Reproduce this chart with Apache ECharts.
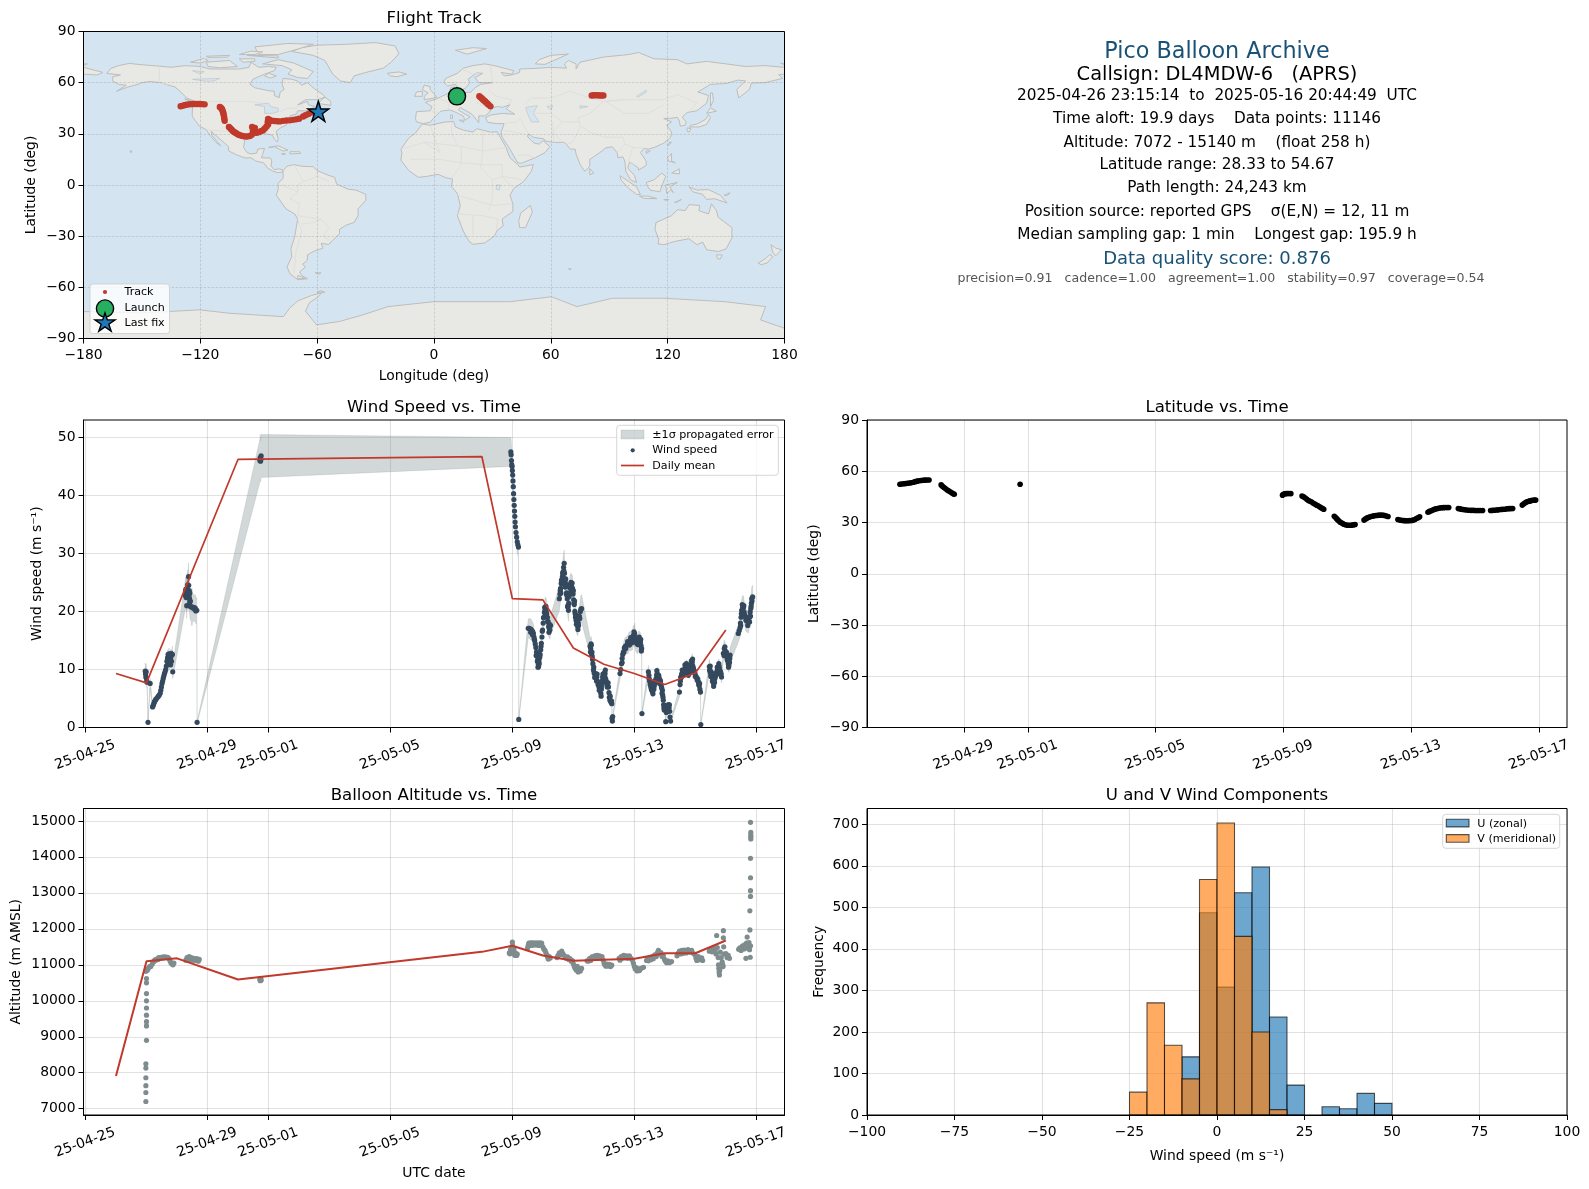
<!DOCTYPE html>
<html><head><meta charset="utf-8">
<style>html,body{margin:0;padding:0;background:#fff}#c{width:1589px;height:1189px}</style>
<script src="https://cdn.jsdelivr.net/npm/echarts@6/dist/echarts.min.js"></script>
</head><body><div id="c"></div>
<script>
// ---------- DATA ----------
const tickDates = ['25-04-25','25-04-29','25-05-01','25-05-05','25-05-09','25-05-13','25-05-17'];
const tickDays = [0,4,6,10,14,18,22]; // days since 2025-04-25 00:00 UTC
const infoLines = [
 ['Pico Balloon Archive',52.7,'#1a5276',22.3,1217],
 ['Callsign: DL4MDW-6   (APRS)',74.7,'#000',19.4,1217],
 ['2025-04-26 23:15:14  to  2025-05-16 20:44:49  UTC',96.2,'#000',15.3,1217],
 ['Time aloft: 19.9 days    Data points: 11146',119.2,'#000',15.3,1217],
 ['Altitude: 7072 - 15140 m    (float 258 h)',142.7,'#000',15.3,1217],
 ['Latitude range: 28.33 to 54.67',165.2,'#000',15.3,1217],
 ['Path length: 24,243 km',188.2,'#000',15.3,1217],
 ['Position source: reported GPS    σ(E,N) = 12, 11 m',211.7,'#000',15.3,1217],
 ['Median sampling gap: 1 min    Longest gap: 195.9 h',234.7,'#000',15.3,1217],
 ['Data quality score: 0.876',259.2,'#1a5276',18,1217],
 ['precision=0.91   cadence=1.00   agreement=1.00   stability=0.97   coverage=0.54',279.2,'#555',12.57,1221]
];
const landNorthAmerica = [[-168,65.5],[-166,68.3],[-162,70],[-156.5,71.3],[-150,70.5],[-141,69.7],[-135,69],[-128,70],[-120,69.5],[-115,68],[-108,68],[-100,68],[-95,69],[-94,72],[-90,69],[-85,69.5],[-81,69],[-82,67],[-87,65],[-93,62],[-94.5,59],[-92,57],[-85,55.3],[-82,55],[-82,52.5],[-79.5,51.2],[-79,54.5],[-77,56],[-78,59],[-77.5,62.5],[-73,62],[-70,61],[-68,58.5],[-65,60],[-61.5,56.5],[-57,53],[-56,51.5],[-60,50],[-66,50],[-70,47],[-65,49],[-64.5,47],[-61,46],[-65.5,43.5],[-70,43.5],[-70.5,41.7],[-74,40.5],[-75.5,37.5],[-76,35],[-78.5,33.8],[-81,31.5],[-80,27],[-80.5,25.2],[-82,27],[-83,29.2],[-85,29.7],[-89,30.3],[-90,29.2],[-94,29.6],[-97,28],[-97.5,24],[-97.8,22],[-96,19],[-94,18.2],[-91,18.7],[-90.5,21],[-87,21.5],[-88,18],[-88.7,16],[-84,15.8],[-83.3,14],[-83.7,11],[-82,9],[-79.5,9.5],[-77.5,8.7],[-78,7.5],[-80.5,7.3],[-83,8.3],[-85.5,10],[-87.5,13],[-91.5,14],[-94,16],[-97,15.8],[-102,18],[-105.5,20],[-105.5,22.5],[-109,26],[-112.5,29.5],[-114.5,31.5],[-114,29],[-111,25],[-109.5,23],[-112,25],[-115,29],[-117,32.5],[-120.5,34.5],[-122.5,37.5],[-124.2,40.5],[-124,46],[-124.7,48.4],[-122.5,49],[-127,51],[-130,54.5],[-133,57.5],[-137,58.7],[-140,60],[-146,60.7],[-150,60],[-152,59],[-157,57.5],[-163,55],[-158,58.5],[-162,59],[-165,61],[-165,63.5],[-161,64.5]];
const landGreenland = [[-73,78.3],[-68,80.5],[-60,82],[-45,82.5],[-30,83.5],[-20,81.5],[-18,77],[-22,72],[-26,68.5],[-35,66],[-41,64],[-43,60],[-48,61],[-52,65],[-54,69],[-56,73],[-62,76]];
const landSouthAmerica = [[-77.5,8.5],[-75.5,11],[-72,12],[-68,11],[-62,10.7],[-60,8.5],[-55,6],[-51,4.5],[-50,0.5],[-44,-2.5],[-40,-3],[-35,-5.5],[-35,-9],[-39,-14],[-39,-18],[-41,-22],[-45,-23.5],[-48.5,-26],[-48.5,-28.5],[-52,-32.5],[-54,-34.8],[-58,-34.3],[-57,-37],[-62,-39],[-65,-41],[-65,-44],[-67.5,-46.5],[-66,-48],[-69,-51],[-68,-53],[-65,-55],[-70,-55.5],[-74,-52],[-75.5,-48],[-73,-42],[-73.5,-37.5],[-71.5,-30],[-70,-20],[-71.5,-17],[-76,-14],[-81,-6],[-80,-2.5],[-80,1],[-77.5,4],[-77.5,7.5]];
const landAfrica = [[-6,35.8],[-2,35],[5,36.8],[10,37.3],[11,34],[15,32.2],[20,31],[22,33],[29,31],[32.5,31.2],[34,28],[37,22],[39,16],[43,12],[44,10.5],[51,12],[50,8],[46,2],[41,-2],[39,-6],[40.5,-11],[40.5,-15.5],[35,-20],[35.5,-24],[32.5,-26.5],[31,-30],[26,-34],[20,-34.8],[18,-33],[15,-27],[12,-18],[13.5,-12],[12,-5],[9,-1],[9.5,3.5],[6,4.3],[2,6.3],[-4,5],[-8,4.5],[-13,8.5],[-17,14.5],[-16.5,19],[-17,21],[-13,27.5],[-9.5,30.5]];
const landEurasia = [[-9,37],[-9.5,39],[-9,43],[-2,43.5],[-1,46],[-4.5,48.5],[1.5,50.5],[4,52],[8,54],[8.5,57],[10.5,57.5],[10,54.5],[14,54],[19,54.5],[21,57],[24,59],[30,60],[23,60],[21,63],[25,65.5],[22,65.8],[17.5,62],[18.5,60],[16,56.5],[13,55.5],[11,59],[7,58],[5,60],[6,62.5],[12,65.5],[15,68.5],[20,70],[26,71],[31,70],[41,67],[40,65],[34.5,66],[36,64],[40,64.5],[44,66],[44,68],[54,68.5],[60,69],[68,68.5],[67,71],[69,73],[73,71],[73,68],[75,72],[81,73.5],[87,75],[100,76.5],[105,77.7],[113,74],[125,73.5],[130,71],[140,72.5],[150,71],[160,69.5],[170,70],[180,69],[180,65],[177,64.7],[179,62.5],[170,60],[163,59.8],[162,56],[156.5,51],[155.5,56],[160,61],[156,61.5],[150,59.5],[142,59],[135.5,54.5],[141,52.5],[140,48],[135,43.5],[130,42.5],[127.5,39.8],[129.5,37],[129,35],[126.5,34.5],[126,37.5],[125,39.7],[121,39],[118,39],[122,37],[119.5,35],[122,31],[121.5,28],[118,24.5],[113,22],[110,21],[108,21.5],[106,19],[109,14],[109,11.5],[105,8.7],[105,10],[102.5,12],[100.5,13.5],[99.5,10],[103,5.5],[104,1.5],[101,3],[98.5,8],[98,14],[97,16.5],[94.5,16],[94,19],[91.5,22.5],[88,21.7],[87,20.5],[82,16.5],[80,15],[80,11],[77.5,8],[75,12],[73,18],[72.5,21],[70,21],[69,22.5],[67,25],[61.5,25],[57,25.8],[56.5,27],[51,28],[48.5,30],[48,28.5],[50,26],[51.5,24.5],[54,24],[56,26],[59.5,22.5],[57,19],[52,16],[45,12.8],[43,13],[39,21],[35,28],[34.5,31],[36,36],[32,36],[27.5,36.8],[26.5,39.5],[29,41],[35,42],[41.5,41.5],[37,44.7],[39,47],[35,45.5],[33,46],[30,45.5],[28,42],[26,40.5],[23,40.5],[23,36.5],[19.5,41.5],[13.5,45.5],[12.5,44],[16,41.5],[18.5,40],[16,38],[15,40.5],[10.5,43],[8,44],[3.5,43.3],[0,39.5],[-2,36.8],[-5.5,36]];
const landAustralia = [[114,-22],[113.5,-26],[115.5,-32],[115,-34.5],[118,-35],[124,-33],[131,-31.5],[135,-35],[138,-33.5],[140,-38],[146,-39],[150,-37.5],[153,-31],[153,-25],[146,-19],[145,-15],[142.5,-11],[141,-17],[136,-15],[136.5,-12],[131,-11.5],[129,-15],[125,-14.5],[122,-18],[117,-20.5]];
const landAntarctica = [[-180,-74.2],[-150,-75],[-120.5,-73.2],[-104.8,-75.2],[-77.3,-77.2],[-74,-72],[-70,-68],[-63,-64.8],[-57.6,-63.2],[-60,-66],[-64,-69],[-66,-74],[-60.3,-82],[-48.5,-80],[-36.7,-76.2],[-23.6,-71.3],[0,-68.4],[39.3,-68.4],[60.3,-65.5],[73.4,-71.3],[91.7,-66.4],[118,-66.4],[149.3,-68.4],[170.3,-71.3],[167.7,-79.1],[180,-84],[180,-90],[-180,-90]];
const landIslands = [
 [[-180,69],[-170,66],[-173,64.5],[-180,65]],
 [[-80,73.5],[-72,71.5],[-67,69],[-62,66.5],[-65,62.5],[-70,63],[-75,65],[-73,67.5],[-78,70],[-88,71]],
 [[-117,72],[-105,73],[-101,69.5],[-110,68.7],[-116,69.5]],[[-125,72],[-118,74.2],[-116,73],[-120,71.5]],
 [[-90,76.5],[-80,76.5],[-72,79],[-62,82.5],[-75,83],[-92,81]],[[-96,76],[-80,74.5],[-80,75.7]],[[-117,75.5],[-105,76],[-106,75],[-116,74.8]],
 [[-100,76.5],[-94,78.5],[-88,78],[-92,76.5]],[[-85,65.5],[-81,64],[-84,62.7],[-87,64]],[[-100,74],[-92,74],[-92,72.5],[-98,72]],
 [[-59,47.7],[-53,46.7],[-53,49],[-56,51.5],[-59,48.5]],[[-85,22],[-80,23],[-75,20.5],[-77.5,19.9],[-82,22.5]],[[-74,19.5],[-69,19.5],[-68.5,18.5],[-74,18.2]],
 [[-78.3,18.4],[-76.3,18.2],[-77.5,17.8]],[[-156,20.2],[-155,19.6],[-155.8,19]],[[-128,50.5],[-124,49],[-123.5,48.4],[-125.5,49.2]],[[-70,-53],[-66,-54.8],[-70,-55]],[[-61,-51.5],[-58,-51.5],[-59,-52.3]],
 [[-5,50],[1.5,51.3],[0,53.5],[-2,56],[-2,57.7],[-5,58.5],[-6,56],[-3,54],[-5,52]],[[-10,52],[-6,52],[-6,55],[-9,54.5]],[[-24,65.5],[-18,66.3],[-14,65],[-19,63.5],[-22.5,64]],
 [[11,79],[20,80.5],[27,80],[17,76.7]],[[52,71],[57,70.7],[69,76.8],[60,76],[54,73.5]],[[131,34],[136,34],[140,35.5],[142,39.5],[141,41.3],[139.5,38.5],[135,35.7],[132,35]],
 [[140,42],[145,43.3],[142,45.3]],[[130,33.5],[132,33],[131,31],[130,31.5]],[[142,46],[143.5,49.5],[143,54],[142,54],[142,50]],[[120,23],[122,25],[121,25.2]],[[109,18.5],[111,20],[109,20]],
 [[80,6],[82,7],[80,9.7]],[[95.5,5.5],[100,2],[104,-1],[106,-5.5],[104,-5.5],[100,-2],[96,3]],[[105.5,-6.5],[110,-6.5],[114.5,-8],[108,-7.9]],[[109,1.5],[113,3],[117,7],[119,5],[117.5,1],[116,-4],[111,-3],[109.5,-0.5]],
 [[119.5,-5],[119,0],[125,1.5],[121,-1],[123,-4.5],[121.5,-3]],[[131,-1],[135,-3],[141,-2.7],[147,-6],[150.5,-10.5],[144,-8],[140,-8.5],[138,-5.5],[133,-4]],[[120,16],[122,18.5],[122,14],[124,13],[120.5,14]],[[122,7],[126,9.5],[126,6.5]],
 [[145,-41],[148,-41],[147,-43.5],[145.5,-43]],[[173,-35],[175.5,-37],[178.5,-38],[175.5,-41.5],[174,-39.5]],[[172.5,-40.7],[174,-42],[171,-45.8],[168,-46.7],[166.5,-45.8],[170.5,-43]],
 [[49.5,-12],[50.5,-16],[47,-25],[44,-25],[43.5,-21],[44.5,-16.5]],[[8.5,41],[9.5,41],[9.5,39],[8.5,39]],[[13,38],[15.5,38],[15,36.7]],[[-180,71],[-178,71],[-180,70]],[[178,71.5],[180,71],[180,70.5]],[[149,-6],[152,-4.5],[151,-6]],[[127,-8.5],[125,-10],[123.5,-10.3]],[[120.5,-8.5],[118,-8.5],[119,-9]],[[-60,-62.7],[-58,-62],[-56,-63]],[[69,-49],[70.5,-49.3],[69.5,-49.5]]
];
const lakeShapes = [[[47,45.5],[53,46.5],[51,42],[54,37],[50,37],[48,42]],[[-92,47],[-85,48],[-84,46],[-80,45],[-80,43],[-83,42],[-87,42],[-87,46]],[[58,46],[61,46.5],[60,44]],[[75,46.5],[79,46],[75,45]],[[104,52],[109,55.5],[109,54.5],[105,51.5]],[[-124,62],[-110,62.5],[-113,61],[-117,60.8]],[[-124,67],[-118,66.5],[-120,65]],[[32,0],[34,0],[33.5,-3],[32,-2.5]]];
const countryBorders = [
 [[-123,49],[-95,49],[-88,48]],[[-83,45.5],[-82.5,42]],[[-79,43],[-75,45],[-71,45],[-68,47],[-67,45]],[[-117,32.5],[-108,31.5],[-106,31.7],[-102,29.5],[-97.5,26]],[[-141,69.7],[-141,60],[-135,58.5]],
 [[-70,-18],[-58,-20],[-54,-25],[-57,-30],[-53,-33]],[[-70,-18],[-69,-11],[-74,-8],[-70,-4],[-70,0],[-67,2],[-60,5],[-60,8]],[[-78,0],[-70,-4]],[[-72,12],[-67,2]],[[-70,-20],[-68,-27],[-71,-40],[-72,-52]],[[-58,-20],[-62,-22],[-68,-23]],[[-54,2],[-60,5]],
 [[-17,21],[-5,25],[12,23],[25,20],[37,22]],[[25,32],[25,20],[24,10],[30,3],[30,-8],[28,-15]],[[14,23],[14,12],[9,4]],[[-12,15],[3,15],[14,13],[24,12],[35,12]],[[12,-6],[30,-12],[40,-11]],[[12,-17],[25,-18],[33,-20],[32,-26]],[[20,-18],[20,-29]],[[-2,35],[3,19],[-5,25]],[[9,37],[9,30],[12,23]],[[35,12],[35,5],[41,-2]],[[30,3],[35,5],[42,4],[46,2]],
 [[-2,43.5],[3,42.5]],[[2,51],[6,49],[8,48],[7,44]],[[14,54],[15,51],[13,48],[9,47.5]],[[23,54],[24,50],[22,48],[28,45.5]],[[28,56],[32,52],[40,50],[38,47]],[[5,60],[12,60],[13,55.5]],[[14,68],[20,65],[24,66]],[[29,70],[30,60]],
 [[60,51],[70,55],[80,51],[87,49],[98,50],[110,50],[118,50],[125,53],[135,48],[131,43]],[[75,35],[80,31],[88,28],[97,28],[98,24],[102,22],[108,21.5]],[[68,24],[71,25],[74,31],[75,35]],[[44.5,39],[46,35],[48.5,30]],[[61,37],[61.5,25]],[[47,45.5],[52,42],[60,42],[66,37],[75,37]],[[60,51],[50,51],[47,48]],[[87,49],[80,42],[74,39],[75,35]],[[98,50],[88,49],[98,42],[110,42],[118,47]],[[36,36],[42,37],[44.5,39]],[[46,30],[36,32]],[[52,16],[46,18],[43,17]],[[66,37],[61,31],[66,25]],[[102,22],[100,14],[103,12]],[[98,24],[94,19]]
];
// flight track [lon,lat]
const trackPoints = [[23.3,52],[23.9,51.4],[24.5,50.9],[25.1,50.2],[25.7,49.6],[26.3,49],[26.9,48.3],[27.5,47.6],[28.1,47],[29,46.1],[81,52.5],[82,52.6],[83,52.6],[84,52.6],[85,52.5],[86,52.5],[87,52.5],
[-130.1,46.2],[-129.3,46.4],[-128.2,46.8],[-127.2,47.1],[-126,47.3],[-124.9,47.4],[-123.8,47.5],[-122.6,47.5],[-121.4,47.5],[-120.3,47.5],[-119,47.4],[-117.8,47.3],
[-110,45.8],[-109.5,45.3],[-109,44.8],[-108.7,44],[-108.4,43],[-108.2,42.2],[-108,41.2],[-107.8,40],[-107.7,39],[-107.5,37.7],
[-105.3,34],[-104.5,33.2],[-103.9,32.4],[-103.2,31.5],[-102.4,30.9],[-101.6,30.3],[-100.6,29.6],[-99.6,29.2],[-98.4,28.8],[-97.2,28.5],[-96,28.4],[-94.6,28.7],[-93.6,29.4],[-92.6,30.6],[-93,32],[-93.4,34],[-92,33.5],[-92.8,32.6],[-91.2,30.6],[-90,31],[-89,31.5],[-87.8,32.1],[-86.9,33.2],[-86,34.3],[-85.2,35.4],[-85.4,37],[-85.2,38.7],[-84.4,38.2],[-83.5,37.7],[-82,37.5],[-80.6,37.4],[-79.2,37.3],[-77.5,37.6],[-75.8,37.8],[-74.1,37.9],[-72.5,38.2],[-70.9,38.5],[-69.3,38.8],[-67.2,40.2],[-66,40.9],[-64.5,41.6],[-62.9,42.5]];
const launchPoint = [[11.8,52]];
const lastFixPoint = [[-59.4,43.2]];
// wind: [day since 25-04-25, speed, sigma]
const windTrace = [[1.96,9.7,1.4],[1.97,9.2,1.4],[1.98,8.7,1.3],[1.99,9.6,1.4],[2,8.5,1.2],[2.01,8,1.1],[2.02,7.8,1.1],[2.05,.9,.2],[2.12,7.6,.9],
[2.2,3.55,.4],[2.22,3.8,.4],[2.24,4.1,.5],[2.26,4.4,.5],[2.28,4.6,.5],[2.3,4.8,.5],[2.33,5,.5],[2.36,5.2,.6],[2.39,5.4,.6],[2.42,5.6,.6],[2.45,5.9,.7],[2.47,6.4,.7],[2.49,7,.8],[2.51,7.6,.9],[2.53,8,.9],[2.55,8.5,1],[2.57,8.9,1],[2.59,9.3,1.1],[2.61,9.6,1.1],[2.63,10,1.2],[2.65,10.6,1.2],[2.67,11.4,1.3],[2.69,12,1.4],[2.7,10.9,1.3],[2.72,11.9,1.4],[2.74,12.3,1.4],[2.76,11.2,1.3],[2.78,11.6,1.3],[2.8,12.1,1.4],[2.82,11.4,1.3],[2.85,12.6,1.4],[2.86,9.6,1.2],
[3.27,22.8,2.4],[3.28,23.5,2.5],[3.3,22.4,2.4],[3.31,23.2,2.5],[3.32,21,2.2],[3.33,24,2.6],[3.34,22.6,2.4],[3.35,24.6,2.6],[3.36,23.4,2.5],[3.38,26,2.4],[3.385,24.5,2.4],[3.39,22.5,2.4],[3.4,23.6,2.5],[3.41,22.2,2.4],[3.42,21.6,2.3],[3.43,20.9,2.3],[3.46,20.8,2.3],[3.49,20.8,3.3],[3.52,20.6,2.3],[3.55,20.7,2.3],[3.58,20.4,2.2],[3.6,20.6,2.3],[3.62,20.1,2.2],[3.65,20.2,2.2],[3.66,.9,.2],
[5.72,46,3.7],[5.73,46.5,4],[5.74,45.9,3.5],[5.75,46.2,3.7],[5.76,46.8,3.7],
[13.95,47.5,2.5],[13.96,47,2.5],[13.97,46,2.6],[13.98,45.3,2.5],[13.99,45,2.5],[14,44.3,2.5],[14.01,43.5,2.4],[14.02,42.5,2.4],[14.03,41.5,2.3],[14.04,40.3,2.3],[14.05,39.3,2.2],[14.06,38.3,2.2],[14.07,37.3,2.1],[14.08,36.4,2.1],[14.09,35.4,2],[14.1,34.6,2],[14.12,33.6,2],[14.14,32.8,1.9],[14.16,32,1.9],[14.18,31.5,1.8],[14.2,31.1,1.8],[14.21,1.4,.2],
[14.52,17.1,1.6],[14.55,17.1,1.7],[14.58,17,1.8],[14.61,16.9,1.8],[14.64,16.7,1.7],[14.67,16.5,1.6],[14.69,16.2,1.6],[14.71,15.6,1.5],[14.73,15,1.4],[14.75,14.4,1.4],[14.77,13.8,1.3],[14.79,13,1.2],[14.81,12.3,1.2],[14.83,11.6,1.2],[14.85,11,1.2],[14.87,11.4,1.2],[14.89,12,1.2],[14.91,12.6,1.3],[14.93,13.4,1.4],[14.95,14.5,1.5],[14.97,15.6,1.6],[14.99,16.8,1.7],[15.01,18,1.8],[15.03,19,1.9],[15.05,19.8,2],[15.07,20.2,2],[15.09,20.3,2.2],[15.11,20,2.2],[15.13,19.6,2],[15.15,19,1.9],[15.17,18.2,1.8],[15.19,17.4,1.7],[15.21,17.1,1.6],[15.23,16.8,1.6],[15.25,17.6,1.7],
[15.54,22.2,2.1],[15.56,23,2.1],[15.58,24,2.2],[15.6,24.8,2.2],[15.62,25.3,2.2],[15.64,26,2.2],[15.66,26.8,2.3],[15.68,27.6,2.3],[15.7,28.3,2.3],[15.71,26.6,2.3],[15.72,25.4,2.2],[15.74,24.9,2.2],[15.76,24.3,2.2],[15.78,23.2,2.1],[15.8,22.2,2],[15.82,21,1.9],[15.84,20.2,1.9],[15.85,21.4,2],[15.87,23,2.1],[15.89,24,2.2],[15.91,24.4,2.2],[15.93,24.3,2.2],[15.95,24.2,2.2],[15.97,24,2.2],[15.99,23,2.1],[16.01,22,2],[16.03,21.2,2],[16.05,20,1.9],[16.07,19,1.8],[16.09,18.5,1.8],[16.11,17.9,1.7],[16.14,17.5,1.7],[16.16,18,1.7],[16.18,18.7,1.8],[16.2,19.1,1.8],[16.23,20,2.2],[16.25,20.4,2.4],[16.27,20.5,2.4],
[16.55,14,1.5],[16.57,13.6,1.5],[16.59,14.2,1.5],[16.6,12.6,1.4],[16.61,13,1.4],[16.62,12.2,1.3],[16.64,11,1.2],[16.66,9.9,1.1],[16.68,9.4,1.1],[16.71,9.1,1],[16.74,8.7,1],[16.77,8.7,1],[16.79,8,.9],[16.81,7.4,.9],[16.84,7,.8],[16.87,6.4,.8],[16.9,5.9,.8],[16.92,6.6,.8],[16.94,7.8,.9],[16.96,8.7,1],[16.99,9,1],[17.02,9.4,1.1],[17.04,9.3,1.1],[17.06,8.4,1],[17.09,7.6,.9],[17.12,7.3,.9],[17.15,7,.8],[17.17,6,.7],[17.2,4.7,.6],[17.23,4.4,.6],[17.26,4.1,.5],[17.27,1.6,.3],[17.28,1.1,.2],[17.29,1.9,.3],
[17.53,9.3,1],[17.55,10,1.1],[17.58,11,1.2],[17.6,11.9,1.3],[17.62,12.6,1.4],[17.64,13,1.4],[17.67,13.7,1.5],[17.7,14,1.5],[17.75,14.2,1.5],[17.8,14.4,1.6],[17.83,14.9,1.6],[17.86,14.8,1.6],[17.9,15,1.7],[17.94,15.1,1.7],[17.97,15.9,1.7],[18,15.6,1.7],[18.01,16.2,1.8],[18.04,14.8,1.6],[18.08,14.5,1.6],[18.11,14.3,1.6],[18.14,15,1.6],[18.17,15,1.6],[18.2,14.7,1.6],[18.22,14.1,1.5],[18.24,13.6,1.5],[18.25,2.4,.3],
[18.46,9.6,1.1],[18.48,9,1],[18.5,8,.9],[18.52,7.4,.9],[18.54,7,.8],[18.57,6.4,.8],[18.6,6.1,.8],[18.62,6.6,.8],[18.65,7.1,.9],[18.68,7.6,.9],[18.71,8.4,1],[18.73,9,1],[18.75,9.3,1.1],[18.78,9,1],[18.81,8.6,1],[18.84,8.2,1],[18.87,7.4,.9],[18.9,6.8,.8],[18.92,6.4,.8],[18.93,5.6,.7],[18.95,4.7,.6],[18.96,3.9,.5],[18.97,3.4,.5],[18.98,3,.4],[19,3.6,.5],[19.03,1,.2],[19.05,2.6,.4],[19.08,3.6,.5],[19.11,3.2,.4],[19.13,3.9,.5],[19.15,3.9,.5],[19.16,2.8,.4],[19.17,1.8,.3],[19.19,1.1,.2],
[19.48,6.1,.8],[19.5,7.4,.9],[19.52,8.7,1],[19.55,9.2,1.1],[19.58,9.4,1.1],[19.61,9.6,1.1],[19.64,9.9,1.1],[19.67,10.3,1.2],[19.7,10.2,1.2],[19.72,10.5,1.2],[19.75,9.8,1.1],[19.78,9.6,1.1],[19.8,9.6,1.1],[19.83,10.2,1.2],[19.86,10.6,1.3],[19.88,11,1.3],[19.9,11.3,1.4],[19.92,10.6,1.3],[19.95,9.8,1.2],[19.99,9.3,1.1],[20.02,8.8,1],[20.06,8.2,1],[20.1,7.9,.9],[20.13,7.2,.9],[20.15,6.6,.8],[20.17,6.1,.8],[20.18,.5,.1],
[20.46,10.5,1.2],[20.48,10,1.2],[20.5,9.4,1.1],[20.52,9,1],[20.54,8.7,1],[20.57,8,.9],[20.59,7.7,.9],[20.61,7.6,.9],[20.64,8.4,1],[20.67,9.2,1.1],[20.7,9.6,1.1],[20.73,10,1.2],[20.76,10.5,1.2],[20.78,10.6,1.2],[20.8,9.8,1.1],[20.83,9.6,1.1],[20.86,8.7,1],
[20.92,12.8,1.4],[20.95,13.6,1.5],[20.98,13.2,1.4],[21,12.5,1.4],[21.03,12.5,1.4],[21.05,11.6,1.3],[21.08,11,1.2],[21.1,10.7,1.2],[21.12,11.2,1.2],[21.14,12.5,1.3],
[21.41,16.2,1.5],[21.44,16.7,1.5],[21.47,17.2,1.6],[21.49,17.6,1.6],[21.5,19,1.8],[21.52,20.2,1.9],[21.55,20.7,2],[21.58,20.7,2],[21.6,19.9,1.9],[21.63,19.2,1.8],[21.66,18.5,1.9],[21.7,18.3,1.9],[21.74,18.2,1.9],[21.76,18.9,1.9],[21.79,19.1,1.9],[21.8,19.9,1.9],[21.82,20.5,1.9],[21.84,21.4,2],[21.85,22.2,2],[21.88,22.5,2]];
// further wind readings inside the dense clusters, no error band of their own
const windClusterExtra = [[2.71,12.6],[2.73,11],[2.75,12.7],[2.77,12.2],[2.79,10.8],[2.81,12.8],[3.29,23.8],[3.32,23],[3.34,23.8],[3.37,22.8],[3.4,22.9],[3.42,23.2],[3.44,21.8],
[14.6,16.4],[14.66,16],[14.72,15.2],[14.78,12.4],[14.82,11.4],[14.84,10.4],[14.86,10.5],[14.88,11],[14.9,12.2],[14.94,14],[14.98,16.6],[15.02,18.9],[15.06,20.7],[15.1,20.9],[15.12,19.2],[15.16,18.3],[15.2,16.4],[15.22,17.8],
[15.57,23.6],[15.59,23.2],[15.61,25.4],[15.63,24.8],[15.65,26.6],[15.67,25.8],[15.69,27],[15.73,24.2],[15.75,25.6],[15.77,23],[15.79,22.8],[15.81,20.8],[15.83,20.8],[15.86,22.6],[15.88,24.6],[15.9,23.2],[15.92,25],[15.94,23.4],[15.96,24.9],[15.98,23.2],[16,23.6],[16.02,21.4],[16.04,21.8],[16.06,19.6],[16.08,19.4],[16.1,17.8],[16.12,18.6],[16.15,16.9],[16.17,17.6],[16.19,19.2],[16.21,18.8],
[16.56,13],[16.58,14.4],[16.63,11.7],[16.67,10.4],[16.7,8.6],[16.73,9.3],[16.76,8],[16.78,9.2],[16.82,7.8],[16.85,6.4],[16.88,7],[16.91,5.4],[16.93,7.2],[16.95,8.1],[16.97,9.2],[17,8.5],[17.03,8.8],[17.05,9.9],[17.08,8],[17.11,7],[17.14,7.7],[17.18,5.2],[17.21,5.4],[17.25,4.6],
[17.6,11.2],[17.66,13],[17.72,13.6],[17.78,14.8],[17.84,14.2],[17.88,15.5],[17.92,14.6],[17.96,15.2],[17.99,16.5],[18.03,15.5],[18.06,15.2],[18.1,15],[18.13,14.4],[18.16,15.6],[18.19,14.2],[18.21,15.2],[18.23,13.2],
[18.49,8.4],[18.53,7.8],[18.56,6.6],[18.59,6.6],[18.61,5.8],[18.64,6.6],[18.67,8],[18.7,7.9],[18.74,9.8],[18.77,8.5],[18.8,9],[18.83,7.6],[18.86,8],[18.89,7],[18.91,5.9],[18.94,5.2],[18.99,3.8],[19.02,3.2],[19.04,3.4],[19.07,3],[19.1,3.9],[19.12,2.8],[19.14,3.4],
[19.51,8],[19.54,8.6],[19.57,9.9],[19.6,9],[19.63,9.4],[19.66,10.8],[19.69,9.6],[19.71,11],[19.74,10.3],[19.77,9],[19.79,10.2],[19.82,9.6],[19.85,10.1],[19.87,11.5],[19.89,10.6],[19.91,11.8],[19.94,10.2],[19.97,9.7],[20,8.8],[20.04,8.6],[20.08,8.4],[20.11,7.4],[20.14,7.6],
[20.47,9.8],[20.49,10.6],[20.51,8.8],[20.53,9.5],[20.56,8],[20.58,8.4],[20.6,7.1],[20.63,7.8],[20.66,8.8],[20.69,9.1],[20.72,10.4],[20.75,9.9],[20.77,11],[20.79,10.2],[20.82,9.2],[20.85,9.2],
[20.94,12.4],[20.97,13.9],[20.99,12.6],[21.02,13],[21.04,12],[21.07,11.5],[21.09,10.4],[21.11,11.4],[21.13,11.9],
[21.48,18],[21.51,19.6],[21.53,19.6],[21.54,21.2],[21.57,20],[21.59,21],[21.62,19.4],[21.65,19],[21.68,18.8],[21.72,17.6],[21.75,18.8],[21.78,18.2],[21.81,19.2],[21.83,20.9],[21.86,21.8]];
const windDailyMean = [[1,9.3],[2,7.7],[5,46.2],[13,46.7],[14,22.2],[15,22],[16,13.7],[17,10.9],[18,9.3],[19,7.4],[20,9.4],[21,16.8]];
// latitude
const latTrace = [[2,52.4],[2.06,52.5],[2.12,52.7],[2.18,52.8],[2.24,53],[2.3,53.1],[2.36,53.3],[2.42,53.6],[2.48,53.9],[2.54,54.2],[2.6,54.4],[2.66,54.6],[2.72,54.7],[2.78,54.8],[2.84,54.9],[2.91,54.9],
[3.29,52],[3.33,51.2],[3.37,50.6],[3.42,49.9],[3.47,49.2],[3.52,48.6],[3.57,48],[3.62,47.4],[3.67,46.8],[3.7,46.5],[5.76,52.4],
[13.97,46],[14,46.5],[14.04,46.8],[14.08,46.9],[14.12,47],[14.17,47],[14.23,46.9],
[14.58,45.5],[14.63,45],[14.68,44.3],[14.73,43.6],[14.78,42.9],[14.83,42.4],[14.88,42],[14.93,41.3],[14.98,40.8],[15.03,40.2],[15.08,39.8],[15.13,39.2],[15.18,38.6],[15.22,38.2],[15.26,37.8],
[15.59,33.7],[15.63,32.9],[15.67,32.1],[15.71,31.3],[15.75,30.6],[15.79,30],[15.84,29.5],[15.89,29],[15.94,28.7],[16,28.4],[16.06,28.4],[16.12,28.4],[16.18,28.6],[16.24,28.8],
[16.52,31.4],[16.57,32.1],[16.62,32.7],[16.67,33.1],[16.72,33.4],[16.77,33.7],[16.83,33.9],[16.89,34.1],[16.95,34.2],[17.01,34.3],[17.08,34.3],[17.14,34.2],[17.2,33.9],[17.27,33.5],
[17.58,31.8],[17.63,31.5],[17.68,31.3],[17.73,31.2],[17.78,31.1],[17.83,31],[17.89,31],[17.95,31.1],[18.01,31.2],[18.06,31.4],[18.11,31.8],[18.16,32.3],[18.21,32.8],[18.26,33.3],
[18.52,36],[18.57,36.5],[18.62,36.9],[18.67,37.3],[18.72,37.7],[18.77,38],[18.82,38.2],[18.88,38.5],[18.94,38.6],[19,38.7],[19.06,38.8],[19.12,38.8],[19.17,38.8],
[19.47,38.2],[19.52,38],[19.57,37.8],[19.62,37.6],[19.67,37.5],[19.73,37.3],[19.8,37.2],[19.87,37.1],[19.94,37.1],[20.01,37],[20.08,37],[20.15,37],[20.23,37],
[20.48,37],[20.54,37.1],[20.6,37.2],[20.66,37.3],[20.72,37.4],[20.79,37.6],[20.85,37.7],[20.92,37.8],[20.99,38],[21.06,38.1],[21.12,38.2],[21.17,38.2],
[21.47,40.2],[21.52,41],[21.57,41.7],[21.62,42.1],[21.67,42.4],[21.7,42.5],[21.75,42.8],[21.8,43],[21.85,43.1],[21.89,43.1]];
// altitude
const altTrace = [[1.98,7200],[1.98,7450],[1.98,7640],[1.98,7860],[1.98,8130],[1.98,8250],[2,8900],[2,9300],[2,9420],[2,9600],[2,9800],[2,10000],[2,10200],[2,10500],[2,10620],
[1.98,10820],[2,10880],[2.03,10850],[2.06,10900],[2.1,10950],[2.14,10950],[2.19,11020],[2.22,11080],[2.25,11100],[2.28,11140],[2.31,11130],[2.34,11160],[2.38,11150],[2.4,11200],[2.44,11180],[2.48,11210],[2.52,11190],[2.55,11220],[2.58,11200],[2.62,11220],[2.66,11200],[2.7,11210],[2.74,11170],[2.77,11120],[2.8,11060],[2.84,11020],[2.87,11000],[2.9,11050],
[3.29,11130],[3.33,11200],[3.37,11150],[3.4,11230],[3.44,11150],[3.47,11200],[3.5,11130],[3.55,11180],[3.6,11120],[3.65,11170],[3.7,11100],[3.73,11150],
[5.72,10600],[5.73,10560],[5.75,10620],[5.76,10570],
[13.9,11330],[13.92,11305],[13.94,11420],[13.96,11350],[13.98,11500],[14,11630],[14.01,11530],[14.02,11400],[14.04,11300],[14.05,11450],[14.07,11350],[14.09,11260],[14.11,11320],[14.14,11260],[14.16,11300],
[14.5,11470],[14.52,11540],[14.54,11600],[14.57,11540],[14.6,11610],[14.63,11540],[14.66,11610],[14.7,11550],[14.74,11610],[14.78,11550],[14.82,11610],[14.86,11540],[14.9,11610],[14.94,11560],[14.96,11600],[15,11500],[15.03,11440],[15.07,11400],[15.1,11330],[15.13,11280],[15.16,11200],[15.18,11160],[15.21,11230],[15.24,11190],
[15.46,11200],[15.5,11260],[15.54,11330],[15.58,11280],[15.62,11380],[15.65,11310],[15.68,11280],[15.73,11230],[15.77,11180],[15.81,11220],[15.85,11150],[15.89,11170],[15.93,11100],[15.97,11120],[16,11030],[16.03,10950],[16.06,10900],[16.1,10850],[16.13,10960],[16.16,10800],[16.19,10880],[16.23,10830],[16.27,10900],
[16.45,11110],[16.49,11100],[16.53,11170],[16.57,11120],[16.61,11220],[16.66,11180],[16.7,11250],[16.74,11190],[16.78,11260],[16.82,11210],[16.86,11250],[16.9,11180],[16.94,11230],[16.98,11130],[17.01,11040],[17.03,11000],[17.07,10960],[17.1,11020],[17.14,10970],[17.18,11010],[17.22,10950],[17.26,10990],
[17.5,11180],[17.53,11130],[17.57,11230],[17.6,11180],[17.65,11260],[17.69,11190],[17.74,11250],[17.78,11180],[17.84,11250],[17.9,11170],[17.94,11130],[17.97,11040],[18,10950],[18.03,10880],[18.06,10920],[18.09,10830],[18.13,10880],[18.17,10840],[18.22,10900],[18.3,10930],
[18.4,11120],[18.43,11180],[18.46,11110],[18.5,11200],[18.54,11140],[18.58,11230],[18.62,11170],[18.67,11280],[18.72,11230],[18.76,11340],[18.79,11400],[18.83,11300],[18.87,11340],[18.91,11230],[18.95,11260],[18.99,11150],[19.02,11100],[19.06,11060],[19.1,11110],[19.15,11060],[19.22,11090],
[19.4,11250],[19.44,11320],[19.48,11380],[19.52,11300],[19.56,11400],[19.6,11320],[19.64,11410],[19.7,11330],[19.76,11420],[19.83,11350],[19.88,11400],[19.93,11320],[19.99,11280],[20.02,11190],[20.05,11120],[20.1,11230],[20.15,11140],[20.21,11190],[20.24,11120],
[20.46,11380],[20.5,11430],[20.55,11360],[20.6,11450],[20.65,11380],[20.68,11300],[20.7,11815],[20.72,11480],[20.75,11200],[20.76,11000],[20.77,10900],[20.78,10800],[20.79,10720],[20.8,10850],[20.82,11350],[20.85,11200],[20.88,11080],[20.9,11000],[20.91,10950],[20.92,11950],[20.92,11750],[20.93,11500],[20.95,11300],[21,11310],[21.04,11200],[21.08,11260],[21.12,11180],
[21.42,11430],[21.46,11470],[21.5,11400],[21.55,11530],[21.6,11440],[21.63,11560],[21.66,11180],[21.68,11600],[21.7,11770],[21.72,11540],[21.74,11450],[21.76,11620],[21.78,11420],[21.79,11970],[21.79,12500],[21.8,11210],[21.81,11530],[21.81,12900],[21.81,13060],[21.81,13420],[21.81,13960],[21.82,14500],[21.82,14550],[21.82,14600],[21.82,14680],[21.81,14960]];
const altDailyMean = [[1,7910],[2,11100],[3,11180],[5,10590],[13,11360],[14,11530],[15,11260],[16,11110],[17,11140],[18,11170],[19,11320],[20,11320],[21,11675]];
// histogram [bin left edge, count]
const histBinWidth = 5;
const histU = [[-10,140],[-5,487],[0,308],[5,535],[10,597],[15,236],[20,72],[30,20],[35,15],[40,52],[45,28]];
const histV = [[-25,55],[-20,270],[-15,168],[-10,87],[-5,567],[0,703],[5,430],[10,200],[15,13]];

// ---------- STYLE / LAYOUT ----------
const FONT = '"DejaVu Sans"';
const boxes = {
  map:{l:83.5,t:31.5,r:784.5,b:338.5}, wind:{l:83.5,t:420,r:784.5,b:727.5},
  lat:{l:867,t:420,r:1567,b:727.5}, alt:{l:83.5,t:808.5,r:784.5,b:1115}, hist:{l:867,t:808.5,r:1567,b:1115}
};
const GRID = 'rgba(176,176,176,0.38)';
const labelStyle = {color:'#000',fontSize:13.9,fontFamily:FONT};
const gridOf = b => ({left:b.l,top:b.t,width:b.r-b.l,height:b.b-b.t,containLabel:false,show:false});
const mapGrid = Object.assign(gridOf(boxes.map),{show:true,backgroundColor:'#d4e5f1',borderWidth:0});
const minusFormat = v => String(v).replace('-','\u2212');
function valueAxis(opts,gi){
  const {min,max,ticks,name,gap,pos,dashed} = opts;
  return {type:'value',gridIndex:gi,min,max,position:pos,
    axisLine:{show:true,onZero:false,lineStyle:{color:'#000',width:1}},
    axisTick:{show:true,length:5,inside:false,lineStyle:{color:'#000',width:1},customValues:ticks},
    axisLabel:Object.assign({show:true,margin:pos==='left'?8:10,customValues:ticks,hideOverlap:false,formatter:minusFormat,
        padding:pos==='left'?[5,0,0,0]:0},labelStyle),
    splitLine:{show:true,lineStyle:dashed?{color:'rgba(120,120,120,0.32)',width:.8,type:[2.5,1.5]}:{color:GRID,width:1.1}},
    name:name||'',nameLocation:'middle',nameGap:gap,nameTextStyle:labelStyle,nameRotate:pos==='left'?90:0};
}
function dateAxis(gi,xmin,xmax,name,gap,ticks){
  return {type:'value',gridIndex:gi,min:xmin,max:xmax,position:'bottom',
    axisLine:{show:true,onZero:false,lineStyle:{color:'#000',width:1}},
    axisTick:{show:true,length:5,lineStyle:{color:'#000',width:1},customValues:ticks},
    axisLabel:Object.assign({show:true,customValues:ticks,rotate:20,align:'center',verticalAlign:'top',margin:20,padding:[0,6,0,0],hideOverlap:false,
       formatter:v=>tickDates[tickDays.indexOf(Math.round(v))]},labelStyle),
    splitLine:{show:true,lineStyle:{color:GRID,width:1.1}},
    name:name||'',nameLocation:'middle',nameGap:gap,nameTextStyle:labelStyle};
}
const seq = (a,b,s)=>{const r=[];for(let v=a;v<=b+1e-9;v+=s)r.push(v);return r;};
const xy = rows => rows.map(r=>[r[0],r[1]]);

const landAll = [landNorthAmerica,landGreenland,landSouthAmerica,landAfrica,landEurasia,landAustralia,landAntarctica].concat(landIslands);
function shapeSeries(name,shapes,fill,stroke,lw,z){
  return {type:'custom',name,coordinateSystem:'cartesian2d',xAxisIndex:0,yAxisIndex:0,z,clip:true,silent:true,
    data:shapes.map((s,i)=>[s[0][0],s[0][1],i]),encode:{x:0,y:1},
    renderItem:(params,api)=>{
      const s=shapes[api.value(2)];
      return {type:'polygon',shape:{points:s.map(p=>api.coord(p))},style:{fill,stroke,lineWidth:lw}};
    }};
}
function borderSeries(lines){
  return {type:'custom',name:'Borders',coordinateSystem:'cartesian2d',xAxisIndex:0,yAxisIndex:0,z:2,clip:true,silent:true,
    data:lines.map((s,i)=>[s[0][0],s[0][1],i]),encode:{x:0,y:1},
    renderItem:(params,api)=>{
      const s=lines[api.value(2)];
      return {type:'polyline',shape:{points:s.map(p=>api.coord(p))},style:{fill:null,stroke:'#dcdcd8',lineWidth:.8}};
    }};
}
const bandSeries = {type:'custom',name:'±1σ propagated error',coordinateSystem:'cartesian2d',xAxisIndex:1,yAxisIndex:1,z:2,clip:true,silent:true,
  data:[[windTrace[0][0],windTrace[0][1]]],encode:{x:0,y:1},
  renderItem:(params,api)=>{
    const up=windTrace.map(r=>api.coord([r[0],r[1]+r[2]]));
    const lo=windTrace.map(r=>api.coord([r[0],r[1]-r[2]])).reverse();
    return {type:'polygon',shape:{points:up.concat(lo)},style:{fill:'rgba(127,140,141,0.35)',stroke:'rgba(127,140,141,0.18)',lineWidth:1}};
  }};
function histSeries(name,rows,fill,z){
  return {type:'custom',name,coordinateSystem:'cartesian2d',xAxisIndex:4,yAxisIndex:4,z,clip:true,silent:true,
    data:rows,encode:{x:0,y:1},
    renderItem:(params,api)=>{
      const a=api.coord([api.value(0),0]),b=api.coord([api.value(0)+histBinWidth,api.value(1)]);
      return {type:'rect',shape:{x:a[0],y:b[1],width:b[0]-a[0],height:a[1]-b[1]},style:{fill,stroke:'#000',lineWidth:1.1,opacity:.65}};
    }};
}
const STAR='path://M50 0L61.2 34.5L97.6 34.5L68.2 55.9L79.4 90.5L50 69.1L20.6 90.5L31.8 55.9L2.4 34.5L38.8 34.5Z';
const starShape=[[50,0],[61.2,34.5],[97.6,34.5],[68.2,55.9],[79.4,90.5],[50,69.1],[20.6,90.5],[31.8,55.9],[2.4,34.5],[38.8,34.5]];

// ---------- GRAPHICS (frames, info text, legends) ----------
const gfx=[];
Object.values(boxes).forEach(b=>gfx.push({type:'rect',z:90,silent:true,shape:{x:b.l,y:b.t,width:b.r-b.l,height:b.b-b.t},style:{fill:null,stroke:'#000',lineWidth:1}}));
infoLines.forEach(l=>gfx.push({type:'text',z:90,silent:true,style:{text:l[0],x:l[4],y:l[1],fill:l[2],font:l[3]+'px '+FONT,textAlign:'center',textVerticalAlign:'middle'}}));
const legTxt=(s,x,y)=>gfx.push({type:'text',z:101,silent:true,style:{text:s,x,y,fill:'#000',font:'11.1px '+FONT,textAlign:'left',textVerticalAlign:'middle'}});
const legBox=(x,y,w,h)=>gfx.push({type:'rect',z:99,silent:true,shape:{x,y,width:w,height:h,r:3},style:{fill:'rgba(255,255,255,0.8)',stroke:'rgba(204,204,204,0.8)',lineWidth:1}});
const legRect=(x,y,w,h,fill,stroke,op)=>gfx.push({type:'rect',z:100,silent:true,shape:{x,y,width:w,height:h},style:{fill,stroke,lineWidth:1.1,opacity:op}});
const legCirc=(x,y,r,fill,stroke,lw)=>gfx.push({type:'circle',z:100,silent:true,shape:{cx:x,cy:y,r},style:{fill,stroke,lineWidth:lw}});
// map legend
legBox(90,284,79.5,49.5);
legCirc(105,292,2.1,'#c0392b',null,0); legTxt('Track',124.5,292);
legCirc(105,308.5,8.6,'#27ae60','#000',1.4); legTxt('Launch',124.5,308.5);
gfx.push({type:'polygon',z:100,silent:true,shape:{points:starShape.map(p=>[94.5+p[0]*.21,313+p[1]*.2])},style:{fill:'#1f77b4',stroke:'#000',lineWidth:1.4}});
legTxt('Last fix',124.5,323.5);
// wind legend
legBox(616.7,425.3,161.6,50);
legRect(621,430,23,9,'rgba(127,140,141,0.35)','rgba(127,140,141,0.18)',1); legTxt('±1σ propagated error',652.3,435);
legCirc(632.7,450.3,2.1,'#34495e',null,0); legTxt('Wind speed',652.3,450.3);
gfx.push({type:'line',z:100,silent:true,shape:{x1:621,y1:465.5,x2:644,y2:465.5},style:{stroke:'#c0392b',lineWidth:1.7}}); legTxt('Daily mean',652.3,466);
// hist legend
legBox(1442.7,814.3,117,34);
legRect(1446.3,819.3,22.7,7.6,'#1f77b4','#000',.65); legTxt('U (zonal)',1477.3,824);
legRect(1446.3,834.6,22.7,7.6,'#ff7f0e','#000',.65); legTxt('V (meridional)',1477.3,839);

// ---------- OPTION ----------
const titles=[['Flight Track',boxes.map],['Wind Speed vs. Time',boxes.wind],['Latitude vs. Time',boxes.lat],['Balloon Altitude vs. Time',boxes.alt],['U and V Wind Components',boxes.hist]];
const option={
  animation:false,backgroundColor:'#fff',textStyle:{fontFamily:FONT},
  title:titles.map(([text,b])=>({text,left:(b.l+b.r)/2,top:b.t-21,textAlign:'center',padding:0,
     textStyle:{fontSize:16.6,fontWeight:'normal',color:'#000',fontFamily:FONT}})),
  grid:[mapGrid,gridOf(boxes.wind),gridOf(boxes.lat),gridOf(boxes.alt),gridOf(boxes.hist)],
  xAxis:[
    Object.assign(valueAxis({min:-180,max:180,ticks:seq(-180,180,60),name:'Longitude (deg)',gap:30.5,pos:'bottom',dashed:true},0),{z:3}),
    dateAxis(1,-0.0656,22.925,'',0,tickDays),
    dateAxis(2,0.97,22.87,'',0,tickDays.slice(1)),
    dateAxis(3,-0.0656,22.925,'UTC date',51.5,tickDays),
    valueAxis({min:-100,max:100,ticks:seq(-100,100,25),name:'Wind speed (m s⁻¹)',gap:34,pos:'bottom'},4)
  ],
  yAxis:[
    Object.assign(valueAxis({min:-90,max:90,ticks:seq(-90,90,30),name:'Latitude (deg)',gap:45,pos:'left',dashed:true},0),{z:3}),
    valueAxis({min:0,max:53,ticks:seq(0,50,10),name:'Wind speed (m s⁻¹)',gap:39,pos:'left'},1),
    valueAxis({min:-90,max:90,ticks:seq(-90,90,30),name:'Latitude (deg)',gap:46,pos:'left'},2),
    valueAxis({min:6825,max:15345,ticks:seq(7000,15000,1000),name:'Altitude (m AMSL)',gap:60,pos:'left'},3),
    valueAxis({min:0,max:738,ticks:seq(0,700,100),name:'Frequency',gap:41,pos:'left'},4)
  ],
  series:[
    shapeSeries('Land',landAll,'#e8e8e4','#bdbdbb',1,1),
    shapeSeries('Lakes',lakeShapes,'#d4e5f1','#bfc5c8',.7,1),
    borderSeries(countryBorders),
    {type:'scatter',name:'Track',xAxisIndex:0,yAxisIndex:0,z:5,data:trackPoints,symbolSize:6.4,itemStyle:{color:'#c0392b',opacity:1},silent:true},
    {type:'scatter',name:'Launch',xAxisIndex:0,yAxisIndex:0,z:6,data:launchPoint,symbolSize:17.2,itemStyle:{color:'#27ae60',borderColor:'#000',borderWidth:1.4,opacity:1},silent:true},
    {type:'scatter',name:'Last fix',xAxisIndex:0,yAxisIndex:0,z:6,data:lastFixPoint,symbol:STAR,symbolSize:[21,20],itemStyle:{color:'#1f77b4',borderColor:'#000',borderWidth:1.4,opacity:1},silent:true},
    bandSeries,
    {type:'scatter',name:'Wind speed',xAxisIndex:1,yAxisIndex:1,z:3,data:xy(windTrace).concat(windClusterExtra),symbolSize:5.2,itemStyle:{color:'#34495e',opacity:1},silent:true},
    {type:'line',name:'Daily mean',xAxisIndex:1,yAxisIndex:1,z:4,data:windDailyMean,showSymbol:false,lineStyle:{color:'#c0392b',width:1.7},silent:true},
    {type:'scatter',name:'Latitude',xAxisIndex:2,yAxisIndex:2,z:3,data:latTrace,symbolSize:5.6,itemStyle:{color:'#000',opacity:1},silent:true},
    {type:'scatter',name:'Altitude',xAxisIndex:3,yAxisIndex:3,z:3,data:altTrace,symbolSize:5.2,itemStyle:{color:'#7f8c8d',opacity:1},silent:true},
    {type:'line',name:'Daily mean altitude',xAxisIndex:3,yAxisIndex:3,z:4,data:altDailyMean,showSymbol:false,lineStyle:{color:'#c0392b',width:2},silent:true},
    histSeries('U (zonal)',histU,'#1f77b4',3),
    histSeries('V (meridional)',histV,'#ff7f0e',4)
  ],
  graphic:{elements:gfx}
};
const chart=echarts.init(document.getElementById('c'),null,{renderer:'canvas',width:1589,height:1189});
chart.setOption(option);
</script></body></html>
